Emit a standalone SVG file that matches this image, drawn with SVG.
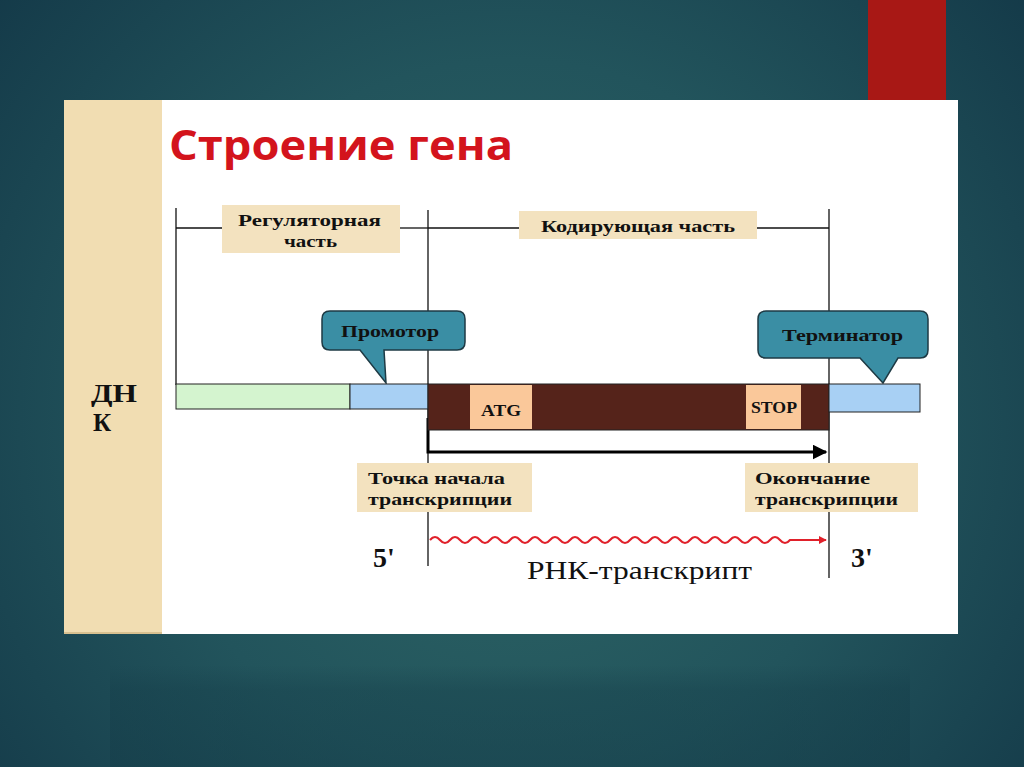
<svg xmlns="http://www.w3.org/2000/svg" width="1024" height="767" viewBox="0 0 1024 767">
<defs>
<radialGradient id="bg" cx="512" cy="420" r="720" gradientUnits="userSpaceOnUse">
<stop offset="0" stop-color="#2e6666"/>
<stop offset="0.5" stop-color="#22545c"/>
<stop offset="1" stop-color="#123646"/>
</radialGradient>
<linearGradient id="refl" x1="0" y1="0" x2="0" y2="1">
<stop offset="0" stop-color="#143c48" stop-opacity="0"/>
<stop offset="0.25" stop-color="#143c48" stop-opacity="0.35"/>
<stop offset="1" stop-color="#143c48" stop-opacity="0.45"/>
</linearGradient>
<marker id="ah" viewBox="0 0 10 10" refX="9" refY="5" markerWidth="5" markerHeight="5" orient="auto" markerUnits="strokeWidth">
<path d="M0,0 L10,5 L0,10 z" fill="#000"/>
</marker>
<marker id="ahr" viewBox="0 0 10 10" refX="9" refY="5" markerWidth="4" markerHeight="4" orient="auto" markerUnits="strokeWidth">
<path d="M0,0 L10,5 L0,10 z" fill="#e0202a"/>
</marker>
</defs>
<style>
.lbl{font-family:"Liberation Serif",serif;font-weight:bold;font-size:16px;fill:#111}
.box{fill:#f3e2bf}
.call{fill:#3a8ea4;stroke:#1e3a44;stroke-width:1.5}
.ln{stroke:#111;stroke-width:1.3;fill:none}
.big{font-family:"Liberation Serif",serif;font-weight:bold;fill:#111}
</style>
<rect width="1024" height="767" fill="url(#bg)"/>
<rect x="110" y="665" width="800" height="102" fill="url(#refl)"/>
<rect x="868" y="0" width="78" height="100" fill="#a81815"/>
<rect x="64" y="100" width="894" height="534" fill="#ffffff"/>
<rect x="64" y="100" width="98" height="534" fill="#f1ddb2"/>
<rect x="64" y="632" width="98" height="2" fill="#d8c090"/>
<text x="169" y="160" font-family="Open Sans, sans-serif" font-weight="bold" font-size="41" fill="#d3141c" textLength="344" lengthAdjust="spacingAndGlyphs">Строение гена</text>
<g id="dnk-label">
<text x="91" y="402" class="big" font-size="25" textLength="46" lengthAdjust="spacingAndGlyphs">ДН</text>
<text x="93" y="431" class="big" font-size="25">К</text>
</g>
<g id="connectors">
<line x1="176" y1="208" x2="176" y2="385" class="ln"/>
<line x1="428" y1="210" x2="428" y2="566" class="ln"/>
<line x1="829" y1="209" x2="829" y2="578" class="ln"/>
<line x1="176" y1="228" x2="222" y2="228" class="ln"/>
<line x1="400" y1="228" x2="428" y2="228" class="ln"/>
<line x1="428" y1="228" x2="519" y2="228" class="ln"/>
<line x1="757" y1="228" x2="829" y2="228" class="ln"/>
<path d="M428,418 L428,452 L826,452" fill="none" stroke="#000" stroke-width="3" marker-end="url(#ah)"/>
<path d="M430,540 q5,-6 10,0 t10,0 t10,0 t10,0 t10,0 t10,0 t10,0 t10,0 t10,0 t10,0 t10,0 t10,0 t10,0 t10,0 t10,0 t10,0 t10,0 t10,0 t10,0 t10,0 t10,0 t10,0 t10,0 t10,0 t10,0 t10,0 t10,0 t10,0 t10,0 t10,0 t10,0 t10,0 t10,0 t10,0 t10,0 t10,0 L826,540" fill="none" stroke="#e0202a" stroke-width="2" marker-end="url(#ahr)"/>
</g>
<g id="regulatory">
<rect x="222" y="205" width="178" height="48" class="box"/>
<text x="238" y="226" class="lbl" textLength="143" lengthAdjust="spacingAndGlyphs">Регуляторная</text>
<text x="284" y="247" class="lbl" textLength="53" lengthAdjust="spacingAndGlyphs">часть</text>
</g>
<g id="coding">
<rect x="519" y="211" width="238" height="28" class="box"/>
<text x="541" y="232" class="lbl" textLength="194" lengthAdjust="spacingAndGlyphs">Кодирующая часть</text>
</g>
<g id="promoter">
<path d="M330,311 H457 Q465,311 465,319 V342 Q465,350 457,350 H384 L386,383 L360,350 H330 Q322,350 322,342 V319 Q322,311 330,311 Z" class="call"/>
<text x="341" y="337" class="lbl" textLength="98" lengthAdjust="spacingAndGlyphs">Промотор</text>
</g>
<g id="terminator">
<path d="M766,311 H920 Q928,311 928,319 V350 Q928,358 920,358 H898 L883,383 L860,358 H766 Q758,358 758,350 V319 Q758,311 766,311 Z" class="call"/>
<text x="782" y="341" class="lbl" textLength="121" lengthAdjust="spacingAndGlyphs">Терминатор</text>
</g>
<g id="dna">
<rect x="176" y="384" width="174" height="25" fill="#d4f4cf" stroke="#222" stroke-width="1"/>
<rect x="350" y="384" width="78" height="25" fill="#a8d0f4" stroke="#222" stroke-width="1"/>
<rect x="428" y="384" width="401" height="46" fill="#55231a" stroke="#222" stroke-width="1"/>
<rect x="829" y="384" width="91" height="28" fill="#a8d0f4" stroke="#222" stroke-width="1"/>
</g>
<g id="atg">
<rect x="470" y="385" width="62" height="44" fill="#fac89a"/>
<text x="481" y="416" class="lbl" textLength="40" lengthAdjust="spacingAndGlyphs">ATG</text>
</g>
<g id="stop">
<rect x="746" y="385" width="55" height="44" fill="#fac89a"/>
<text x="751" y="413" class="lbl" font-size="14" textLength="46" lengthAdjust="spacingAndGlyphs">STOP</text>
</g>
<g id="start-point">
<rect x="357" y="463" width="175" height="49" class="box"/>
<text x="368" y="484" class="lbl" textLength="137" lengthAdjust="spacingAndGlyphs">Точка начала</text>
<text x="368" y="505" class="lbl" textLength="144" lengthAdjust="spacingAndGlyphs">транскрипции</text>
</g>
<g id="end-point">
<rect x="745" y="463" width="173" height="49" class="box"/>
<text x="755" y="484" class="lbl" textLength="115" lengthAdjust="spacingAndGlyphs">Окончание</text>
<text x="755" y="505" class="lbl" textLength="143" lengthAdjust="spacingAndGlyphs">транскрипции</text>
</g>
<g id="ends">
<text x="373" y="567" class="big" font-size="28">5'</text>
<text x="851" y="567" class="big" font-size="28">3'</text>
<text x="527" y="579" font-family="Liberation Serif, serif" font-size="26" fill="#111" textLength="225" lengthAdjust="spacingAndGlyphs">РНК-транскрипт</text>
</g>
</svg>
